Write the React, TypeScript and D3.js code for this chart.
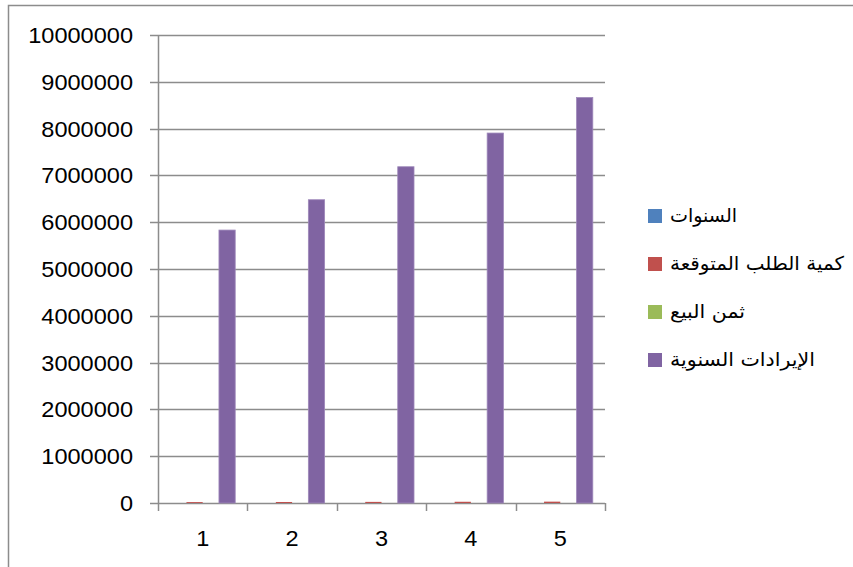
import React from "react";
import * as d3 from "d3";

const categories = ["1", "2", "3", "4", "5"];
const seriesNames = ["السنوات", "كمية الطلب المتوقعة", "ثمن البيع", "الإيرادات السنوية"];
const years = [1, 2, 3, 4, 5];
const demand = [19440, 21600, 23950, 26350, 28880];
const price = [300, 300, 300, 300, 300];
const revenue = [5832000, 6480000, 7185000, 7905000, 8664000];
const seriesColors = ["#4F81BD", "#C0504D", "#9BBB59", "#8064A2"];
const seriesStroke = ["#7A9FCE", "#D07E7C", "#B5CD84", "#9E88BA"];
const yTicks = [0, 1000000, 2000000, 3000000, 4000000, 5000000, 6000000, 7000000, 8000000, 9000000, 10000000];
const legendWidths = [67, 174, 75, 145];

export default function App() {
  const W = 853, H = 567;
  const left = 158, right = 605, top = 35, bottom = 503;
  const series = [years, demand, price, revenue];
  const y = d3.scaleLinear().domain([0, 10000000]).range([bottom, top]);
  const x0 = d3.scaleBand().domain(categories).range([left, right]).paddingInner(0).paddingOuter(0);
  const bw = x0.bandwidth() / 5.5;
  const off = bw * 0.75;
  const grid = "#8C8C8C";
  const font = "'Liberation Sans', Arial, sans-serif";
  return (
    <svg width={W} height={H} style={{ position: "absolute", left: 0, top: 0 }}>
      <rect x={0} y={0} width={W} height={H} fill="#fff" />
      <rect x={8.5} y={5.5} width={W + 10} height={H + 10} fill="none" stroke="#8C8C8C" strokeWidth={1.5} />
      {yTicks.map((t) => {
        const s = String(t);
        return (
          <g key={t}>
            <line x1={150} x2={right} y1={Math.round(y(t)) + 0.5} y2={Math.round(y(t)) + 0.5} stroke={grid} strokeWidth={1.5} />
            <text x={133} y={y(t)} dy="0.36em" textAnchor="end" fontFamily={font} fontSize={22} textLength={13.1 * s.length} lengthAdjust="spacingAndGlyphs" fill="#000">{s}</text>
          </g>
        );
      })}
      <line x1={left + 0.5} x2={left + 0.5} y1={top} y2={bottom} stroke={grid} strokeWidth={1.5} />
      {series.map((vals, si) =>
        vals.map((v, ci) => {
          const bx = (x0(categories[ci]) as number) + off + si * bw;
          const h = bottom - y(v);
          return (
            <rect key={si + "-" + ci} x={bx} y={y(v)} width={bw} height={Math.max(h, 0)} fill={seriesColors[si]} stroke={h > 3 ? seriesStroke[si] : "none"} strokeWidth={0.8} />
          );
        })
      )}
      {d3.range(categories.length + 1).map((i) => {
        const xx = Math.round(left + i * x0.bandwidth()) + 0.5;
        return <line key={i} x1={xx} x2={xx} y1={bottom} y2={bottom + 8} stroke={grid} strokeWidth={1.5} />;
      })}
      {categories.map((c) => (
        <text key={c} x={(x0(c) as number) + x0.bandwidth() / 2} y={538} dy="0.36em" textAnchor="middle" fontFamily={font} fontSize={22} textLength={13.1} lengthAdjust="spacingAndGlyphs" fill="#000">{c}</text>
      ))}
      {seriesNames.map((n, i) => {
        const cy = 216 + i * 48;
        return (
          <g key={n}>
            <rect x={648} y={cy - 7} width={14} height={14} fill={seriesColors[i]} />
            <text x={670} y={cy} dy="0.3em" textAnchor="start" fontFamily="'DejaVu Sans', sans-serif" fontSize={19} textLength={legendWidths[i]} lengthAdjust="spacingAndGlyphs" fill="#000">{n}</text>
          </g>
        );
      })}
    </svg>
  );
}
